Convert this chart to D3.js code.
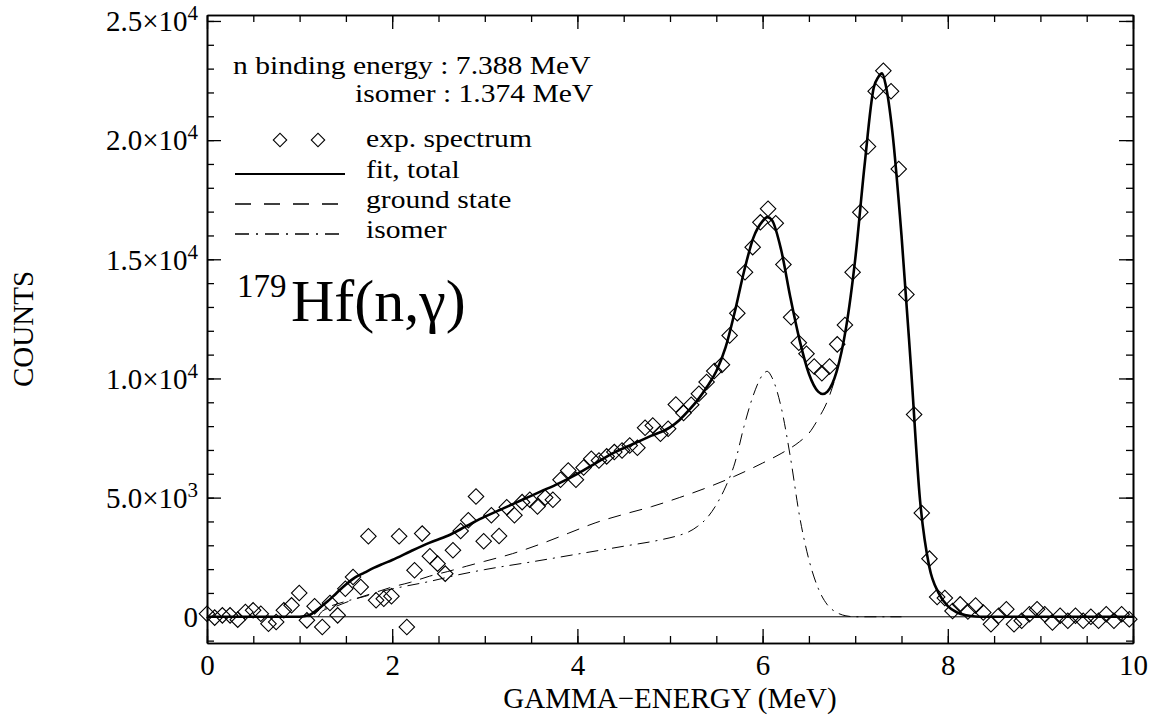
<!DOCTYPE html>
<html>
<head>
<meta charset="utf-8">
<script src="https://cdn.jsdelivr.net/npm/d3@7"></script>
<style>
  body { margin: 0; background: #fff; }
  svg text { font-family: "Liberation Serif", "DejaVu Serif", serif; fill: #000; }
</style>
</head>
<body>
<svg id="chart" width="1160" height="715"></svg>
<script>
// DATA
const channelEnergy = [
  0.000, 0.083, 0.166, 0.249, 0.332, 0.415, 0.498, 0.581, 0.664, 0.747,
  0.830, 0.913, 0.996, 1.079, 1.162, 1.245, 1.328, 1.411, 1.494, 1.577,
  1.660, 1.743, 1.826, 1.909, 1.992, 2.075, 2.158, 2.241, 2.324, 2.407,
  2.490, 2.573, 2.656, 2.739, 2.822, 2.905, 2.988, 3.071, 3.154, 3.237,
  3.320, 3.403, 3.486, 3.569, 3.652, 3.735, 3.818, 3.901, 3.984, 4.067,
  4.150, 4.233, 4.316, 4.399, 4.482, 4.565, 4.648, 4.731, 4.814, 4.897,
  4.980, 5.063, 5.146, 5.229, 5.312, 5.395, 5.478, 5.561, 5.644, 5.727,
  5.810, 5.893, 5.976, 6.059, 6.142, 6.225, 6.308, 6.391, 6.474, 6.557,
  6.640, 6.723, 6.806, 6.889, 6.972, 7.055, 7.138, 7.221, 7.304, 7.387,
  7.470, 7.553, 7.636, 7.719, 7.802, 7.885, 7.968, 8.051, 8.134, 8.217,
  8.300, 8.383, 8.466, 8.549, 8.632, 8.715, 8.798, 8.881, 8.964, 9.047,
  9.130, 9.213, 9.296, 9.379, 9.462, 9.545, 9.628, 9.711, 9.794, 9.877,
  9.960
];

const expCounts = [
  130, -35, 60, 60, -120, 200, 270, 130, -290, -220,
  270, 480, 1000, -150, 440, -430, 580, 60, 1180, 1670,
  1250, 3380, 690, 760, 860, 3380, -430, 1950, 3490, 2540,
  2230, 1810, 2790, 3600, 4050, 5050, 3170, 4260, 3390, 4600,
  4260, 4810, 4910, 4630, 5000, 4910, 5750, 6140, 5750, 6260,
  6630, 6560, 6730, 6910, 6980, 7190, 7090, 7930, 8030, 7680,
  7890, 8910, 8550, 8900, 9360, 9850, 10310, 10570, 11800, 12740,
  14460, 15510, 16550, 17120, 16510, 14780, 12570, 11500, 11040, 10500,
  10220, 10500, 11430, 12240, 14460, 16970, 19730, 22050, 22910, 22050,
  18790, 13520, 8490, 4350, 2440, 830, 790, 240, 520, 220,
  470, 180, -310, 40, 320, -310, -170, 110, 320, 110,
  -240, 40, -170, 40, -170, 0, -170, 110, -170, 110,
  -100
];

const fitEnergy = [
  0, 1.0, 1.1, 1.2, 1.3, 1.4, 1.5, 1.6, 1.7, 1.8,
  1.9, 2.0, 2.2, 2.4, 2.6, 2.8, 3.0, 3.2, 3.4, 3.6,
  3.8, 4.0, 4.2, 4.4, 4.6, 4.8, 5.0, 5.1, 5.2, 5.3,
  5.4, 5.5, 5.6, 5.7, 5.8, 5.9, 6.0, 6.05, 6.1, 6.2,
  6.3, 6.4, 6.5, 6.6, 6.65, 6.7, 6.8, 6.9, 7.0, 7.1,
  7.2, 7.25, 7.29, 7.33, 7.4, 7.5, 7.6, 7.7, 7.8, 7.9,
  8.0, 8.1, 8.2, 8.3, 8.4, 10
];
const fitTotal = [
  0, 0, 60, 330, 640, 1000, 1350, 1650, 1850, 2050,
  2220, 2380, 2750, 3100, 3400, 3800, 4200, 4550, 4900, 5250,
  5600, 6000, 6450, 6900, 7250, 7600, 7950, 8250, 8650, 9100,
  9650, 10300, 11300, 12800, 14500, 15900, 16600, 16770, 16650, 15400,
  13400, 11600, 10200, 9450, 9350, 9450, 10300, 12100, 15000, 18900,
  22200, 22650, 22800, 22300, 20400, 16000, 10600, 4900, 2100, 1000,
  450, 180, 60, 10, 0, 0
];

const groundEnergy = [
  1.2, 1.25, 1.4, 1.6, 1.8, 2.0, 2.2, 2.4, 2.6, 2.8,
  3.0, 3.3, 3.6, 3.9, 4.2, 4.5, 4.8, 5.1, 5.4, 5.7,
  6.0, 6.2, 6.4, 6.5, 6.6, 6.7, 6.8
];
const groundState = [
  0, 250, 450, 750, 1000, 1250, 1450, 1700, 1900, 2120,
  2330, 2650, 3050, 3500, 3950, 4300, 4620, 5000, 5420, 5900,
  6450, 6850, 7350, 7700, 8300, 9050, 10200
];

const isomerEnergy = [
  1.1, 1.15, 1.3, 1.5, 1.7, 1.9, 2.1, 2.4, 2.7, 3.0,
  3.5, 4.0, 4.5, 4.9, 5.1, 5.2, 5.3, 5.4, 5.5, 5.6,
  5.7, 5.8, 5.9, 6.0, 6.05, 6.1, 6.2, 6.3, 6.4, 6.5,
  6.6, 6.7, 6.8, 6.9, 7.0, 7.5
];
const isomerCounts = [
  0, 150, 400, 650, 850, 1080, 1250, 1480, 1750, 1980,
  2300, 2630, 2960, 3230, 3420, 3560, 3800, 4150, 4700, 5450,
  6450, 8000, 9300, 10150, 10300, 10050, 8800, 6700, 4200, 2400,
  1200, 500, 180, 40, 0, 0
];

const xTicks = [0, 2, 4, 6, 8, 10];
const xTickLabels = ['0', '2', '4', '6', '8', '10'];
const yTicks = [0, 5000, 10000, 15000, 20000, 25000];
const yTickLabels = [['0', ''], ['5.0×10', '3'], ['1.0×10', '4'], ['1.5×10', '4'], ['2.0×10', '4'], ['2.5×10', '4']];

const infoLines = ['n binding energy : 7.388 MeV', 'isomer : 1.374 MeV'];
const legendLabels = ['exp. spectrum', 'fit, total', 'ground state', 'isomer'];

//SETUP
const svg = d3.select('#chart');
const x = d3.scaleLinear().domain([0, 10]).range([207, 1133]);
const y = d3.scaleLinear().domain([-1100, 25250]).range([643, 15]);
const [x0, x1] = x.range();
const [y0, y1] = y.range();

//AXES
function addAxis(axis, tx, ty) {
  return svg
    .append('g')
    .attr('transform', `translate(${tx},${ty})`)
    .call(axis)
    .attr('font-family', null)
    .attr('font-size', 29)
    .call((g) => g.select('.domain').attr('stroke', '#000').attr('stroke-width', 1.6))
    .call((g) => g.selectAll('.tick line').attr('stroke', '#000').attr('stroke-width', 1.3));
}

const xMinor = d3.range(0, 10.001, 0.5);
const yMinor = d3.range(-1000, 25001, 1000);

addAxis(d3.axisBottom(x).tickValues(xMinor).tickSizeInner(-7).tickSizeOuter(0).tickFormat(''), 0, y0);
addAxis(d3.axisTop(x).tickValues(xMinor).tickSizeInner(-7).tickSizeOuter(0).tickFormat(''), 0, y1);
addAxis(d3.axisLeft(y).tickValues(yMinor).tickSizeInner(-7).tickSizeOuter(0).tickFormat(''), x0, 0);
addAxis(d3.axisRight(y).tickValues(yMinor).tickSizeInner(-7).tickSizeOuter(0).tickFormat(''), x1, 0);

addAxis(
  d3.axisBottom(x).tickValues(xTicks).tickSizeInner(-14).tickSizeOuter(0).tickPadding(11)
    .tickFormat((d, i) => xTickLabels[i]),
  0, y0
);
addAxis(d3.axisTop(x).tickValues(xTicks).tickSizeInner(-14).tickSizeOuter(0).tickFormat(''), 0, y1);
addAxis(d3.axisRight(y).tickValues(yTicks).tickSizeInner(-14).tickSizeOuter(0).tickFormat(''), x1, 0);
addAxis(
  d3.axisLeft(y).tickValues(yTicks).tickSizeInner(-14).tickSizeOuter(0).tickPadding(9).tickFormat(''),
  x0, 0
).call((g) =>
  g.selectAll('.tick text').each(function (d, i) {
    const t = d3.select(this).attr('dy', '0.34em');
    t.append('tspan').text(yTickLabels[i][0]);
    if (yTickLabels[i][1]) {
      t.append('tspan').attr('dy', -11).attr('font-size', 21).text(yTickLabels[i][1]);
    }
  })
);

svg.append('text')
  .attr('x', (x0 + x1) / 2)
  .attr('y', 708)
  .attr('text-anchor', 'middle')
  .attr('font-size', 29)
  .text('GAMMA\u2212ENERGY (MeV)');

svg.append('text')
  .attr('transform', `translate(33,${(y0 + y1) / 2}) rotate(-90)`)
  .attr('text-anchor', 'middle')
  .attr('font-size', 29)
  .text('COUNTS');

//ZERO LINE
svg.append('line')
  .attr('x1', x0).attr('x2', x1)
  .attr('y1', y(0)).attr('y2', y(0))
  .attr('stroke', '#000').attr('stroke-width', 1);

//CURVES
const curve = (xs, ys) =>
  d3.line().x((d, i) => x(xs[i])).y((d) => y(d)).curve(d3.curveMonotoneX)(ys);

svg.append('path')
  .attr('d', curve(groundEnergy, groundState))
  .attr('fill', 'none').attr('stroke', '#000').attr('stroke-width', 1)
  .attr('stroke-dasharray', '13,9');

svg.append('path')
  .attr('d', curve(isomerEnergy, isomerCounts))
  .attr('fill', 'none').attr('stroke', '#000').attr('stroke-width', 1)
  .attr('stroke-dasharray', '12,6,2,6');

svg.append('path')
  .attr('d', curve(fitEnergy, fitTotal))
  .attr('fill', 'none').attr('stroke', '#000').attr('stroke-width', 2.6)
  .attr('stroke-linejoin', 'round');

//DATA POINTS
const diamond = d3.symbol(d3.symbolSquare, 120);
svg.append('g')
  .selectAll('path')
  .data(expCounts)
  .join('path')
  .attr('d', diamond)
  .attr('transform', (d, i) => `translate(${x(channelEnergy[i])},${y(d)}) rotate(45)`)
  .attr('fill', 'none')
  .attr('stroke', '#000')
  .attr('stroke-width', 1.1);

//INFO TEXT AND LEGEND (wide lettering, as in the original)
const wideText = (sel, tx, ty, str) =>
  sel.append('text')
    .attr('transform', `translate(${tx},${ty}) scale(1.16,1)`)
    .attr('font-size', 25.5)
    .text(str);

wideText(svg, 233, 74, infoLines[0]);
wideText(svg, 355, 102, infoLines[1]);

const legendY = [140, 174, 204, 234];
const legendBase = [147, 178, 208, 238];
const legend = svg.append('g');
legendLabels.forEach((label, i) => wideText(legend, 366, legendBase[i], label));

legend.selectAll('.key')
  .data([280, 318])
  .join('path')
  .attr('d', d3.symbol(d3.symbolSquare, 90))
  .attr('transform', (d) => `translate(${d},${legendY[0]}) rotate(45)`)
  .attr('fill', 'none').attr('stroke', '#000').attr('stroke-width', 1.1);

const keyDash = [null, '16,13', '14,7,2,7'];
keyDash.forEach((dash, i) => {
  legend.append('line')
    .attr('x1', 235).attr('x2', 345)
    .attr('y1', legendY[i + 1]).attr('y2', legendY[i + 1])
    .attr('stroke', '#000').attr('stroke-width', i === 0 ? 2.2 : 1.6)
    .attr('stroke-dasharray', dash);
});

//REACTION LABEL
const reaction = svg.append('text').attr('y', 321).attr('font-size', 60);
reaction.append('tspan').attr('x', 237).attr('dy', -24).attr('font-size', 33).text('179');
reaction.append('tspan').attr('x', 291).attr('dy', 24).text('Hf(n,\u03b3)');
</script>
</body>
</html>
